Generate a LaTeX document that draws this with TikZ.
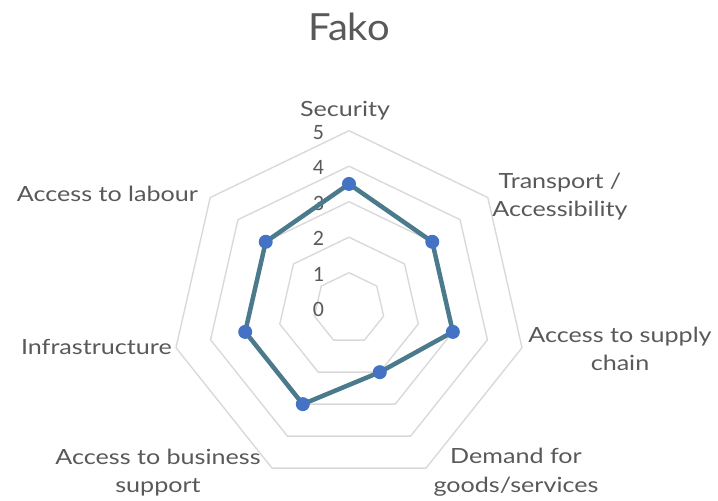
\documentclass[tikz,border=0pt]{standalone}
\usepackage{fontspec}
\setmainfont{Lato}
\newfontfamily\lblfont{Lato}[FakeStretch=1.2]
\newfontfamily\ttlfont{Lato}[FakeStretch=1.07]
\newfontfamily\numfont{Carlito}
\usetikzlibrary{calc}
\definecolor{gridc}{HTML}{D9D9D9}
\definecolor{txt}{HTML}{595959}
\definecolor{serline}{HTML}{4A7A8B}
\definecolor{markc}{HTML}{4472C4}
\begin{document}
\begin{tikzpicture}[x=1bp,y=1bp,
  axlbl/.style={text=txt, font=\lblfont\fontsize{21}{28.7}\selectfont, align=center, inner sep=0pt},
  numlbl/.style={text=txt, font=\numfont\fontsize{22}{26}\selectfont, inner sep=0pt, anchor=base},
  gridring/.style={draw=gridc, line width=1.4bp, line join=round},
  series/.style={draw=serline, line width=4.5bp, line join=round},
  dot/.style={circle, fill=markc, minimum size=14bp, inner sep=0pt}]
\useasboundingbox (0,0) rectangle (718,501);
\coordinate (c) at (349,192.8);
% title
\node[text=txt, font=\ttlfont\fontsize{37.5}{40}\selectfont, anchor=base, inner sep=0pt] (title) at (349,460.3) {Fako};
% grid rings
\foreach \k in {1,...,5} {
  \draw[gridring] ($(c)+(90:35.5*\k)$)
    \foreach \i in {1,...,6} { -- ($(c)+(90-\i*360/7:35.5*\k)$) } -- cycle;
}
% axis numbers
\foreach \k in {0,...,5}
  \node[numlbl] (n\k) at ($(c)+(-30.5,35.5*\k-8.5)$) {\k};
% data markers
\foreach \v [count=\i from 0] in {3.5,3,3,2,3,3,3}
  \coordinate (p\i) at ($(c)+(90-\i*360/7:35.5*\v)$);
\draw[series] (p0) -- (p1) -- (p2) -- (p3) -- (p4) -- (p5) -- (p6) -- cycle;
\foreach \i in {0,...,6}
  \node[dot] (d\i) at (p\i) {};
% axis labels
\node[axlbl, anchor=base] (l0) at (345,384) {Security};
\node[axlbl] (l1) at (560,304.4) {Transport /\\Accessibility};
\node[axlbl] (l2) at (620,152.3) {Access to supply\\chain};
\node[axlbl] (l3) at (516,28.6) {Demand for\\goods/services};
\node[axlbl] (l4) at (158,28.6) {Access to business\\support};
\node[axlbl, anchor=base] (l5) at (96.4,146) {Infrastructure};
\node[axlbl, anchor=base] (l6) at (107.5,299.3) {Access to labour};
\end{tikzpicture}
\end{document}
